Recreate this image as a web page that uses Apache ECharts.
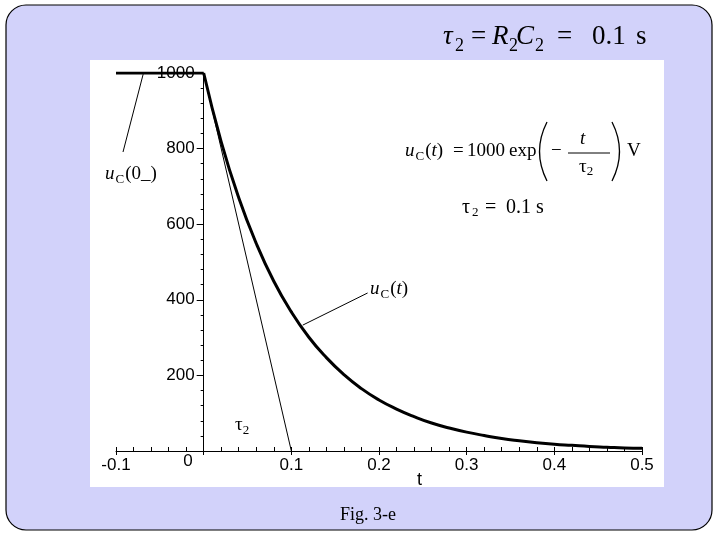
<!DOCTYPE html>
<html><head><meta charset="utf-8">
<script src="https://cdn.jsdelivr.net/npm/echarts@6/dist/echarts.min.js"></script>
<style>html,body{margin:0;padding:0;background:#fff}#c{width:720px;height:540px}</style>
</head><body><div id="c"></div>
<script>
// ---- data ----
const holdT = [-0.1, 0];
const holdU = [1000, 1000];
const decayT = [0, 0.02, 0.04, 0.06, 0.08, 0.1, 0.12, 0.14, 0.16, 0.18, 0.2, 0.22, 0.24, 0.26, 0.28, 0.3, 0.32, 0.34, 0.36, 0.38, 0.4, 0.42, 0.44, 0.46, 0.48, 0.5];
const decayU = [1000, 818, 670, 549, 449, 368, 301, 247, 202, 165, 135, 111, 91, 74, 61, 50, 41, 33, 27, 22, 18, 15, 12, 10, 8, 7];
const tangentT = [0, 0.1];
const tangentU = [1000, 0];
const pointer0T = [-0.069, -0.092];
const pointer0U = [997, 791];
const pointerTT = [0.113, 0.187];
const pointerTU = [333, 418];
const xTickLabelsNeg = ['-0.1', ''];
const xTickLabelsPos = ['', '0.1', '0.2', '0.3', '0.4', '0.5'];
const yTickLabels = ['0', '200', '400', '600', '800', '1000'];

const zip = (a, b) => a.map((v, i) => [v, b[i]]);

const SERIF = '"Liberation Serif","Times New Roman",serif';
const SANS = '"Liberation Sans",Arial,sans-serif';

const cv = document.createElement('canvas').getContext('2d');
function measure(text, font) { cv.font = font; return cv.measureText(text).width; }

function T(text, x, y, font) {
  return { type: 'text', z: 10, silent: true,
    style: { text, x, y, font, fill: '#000', textAlign: 'left', textVerticalAlign: 'middle', align: 'left', verticalAlign: 'middle' } };
}
function seq(x, y, pieces) {
  const out = [];
  let cx = x;
  pieces.forEach(p => {
    const [text, font, dy, gap] = p;
    out.push(T(text, cx, y + (dy || 0), font));
    cx += measure(text, font) + (gap || 0);
  });
  return out;
}
function curve(x1, y1, cx, cy, x2, y2, w) {
  return { type: 'bezierCurve', z: 10, silent: true,
    shape: { x1, y1, x2, y2, cpx1: cx, cpy1: cy },
    style: { fill: null, stroke: '#000', lineWidth: w } };
}

const fTitle = '27px ' + SERIF, fTitleI = 'italic 27px ' + SERIF, fTitleS = '18px ' + SERIF;
const fM = '19px ' + SERIF, fMI = 'italic 19px ' + SERIF, fMS = '13px ' + SERIF;
const fM2 = '20px ' + SERIF;

const graphics = [
  { type: 'rect', z: -10, silent: true, shape: { x: 6, y: 5, width: 706, height: 525, r: 20 },
    style: { fill: '#D2D2FA', stroke: '#000', lineWidth: 1.2 } },
  { type: 'rect', z: -9, silent: true, shape: { x: 90, y: 60, width: 574, height: 427 },
    style: { fill: '#fff' } },
  // title
  T('τ', 443, 37, fTitleI), T('2', 455, 46, fTitleS), T('=', 471, 37, fTitle),
  T('R', 492, 37, fTitleI), T('2', 509, 46, fTitleS), T('C', 516, 37, fTitleI), T('2', 535, 46, fTitleS),
  T('=', 557, 37, fTitle), T('0.1', 592, 37, fTitle), T('s', 636, 37, fTitle),
  // formula
  ...seq(405, 151, [['u', fMI, 0, 1], ['C', fMS, 6, 1], ['(', fM], ['t', fMI], [')', fM]]),
  T('=', 453, 151, fM), T('1000', 467, 151, fM), T('exp', 509, 151, fM),
  curve(547, 122, 532, 151.5, 547, 181, 1.3),
  T('−', 551, 151, fM),
  T('t', 580, 139, fMI),
  { type: 'line', z: 10, silent: true, shape: { x1: 568, y1: 153, x2: 610, y2: 153 }, style: { stroke: '#000', lineWidth: 1 } },
  ...seq(579, 167, [['τ', fM], ['2', fMS, 5]]),
  curve(612, 122, 627, 151.5, 612, 181, 1.3),
  T('V', 627, 151, fM),
  // tau = 0.1 s
  T('τ', 462, 208, fM2), T('2', 472, 213, fMS), T('=', 485, 208, fM2), T('0.1 s', 506, 208, fM2),
  // labels
  ...seq(105, 174, [['u', fMI, 0, 1], ['C', fMS, 6, 1], ['(0_)', fM]]),
  ...seq(370, 289, [['u', fMI, 0, 1], ['C', fMS, 6, 1], ['(', fM], ['t', fMI], [')', fM]]),
  ...seq(235, 425, [['τ', fM], ['2', fMS, 6]]),
  T('t', 417, 480, '18px ' + SANS),
  T('Fig. 3-e', 340, 515, '18px ' + SERIF)
];

const lineBase = { type: 'line', showSymbol: false, silent: true, animation: false, z: 3 };
const blk = { color: '#000', width: 1 };

// two grids share the same pixel scale: 0.1 s = 526/6 px
const X0 = 116, X1 = 642, XZERO = X0 + (X1 - X0) / 6;
const majorX = (min, max, labels, gi) => ({
  type: 'value', gridIndex: gi, min, max, interval: 0.1, position: 'bottom',
  axisLine: { show: true, onZero: false, lineStyle: blk },
  axisTick: { show: true, length: 4, lineStyle: blk },
  splitLine: { show: false },
  axisLabel: { margin: 6, color: '#000', fontFamily: SANS, fontSize: 17, showMinLabel: true, showMaxLabel: true,
    formatter: (v) => labels[Math.round((v - min) * 10)] ?? '' }
});
const minorX = (min, max, gi) => ({
  type: 'value', gridIndex: gi, min, max, interval: 0.02, position: 'bottom',
  axisLine: { show: false, onZero: false },
  axisTick: { show: true, inside: true, length: 4, lineStyle: blk },
  splitLine: { show: false }, axisLabel: { show: false }
});

const option = {
  animation: false,
  backgroundColor: '#fff',
  grid: [
    { left: X0, right: 720 - XZERO, top: 73, bottom: 89, containLabel: false },
    { left: XZERO, right: 720 - X1, top: 73, bottom: 89, containLabel: false }
  ],
  xAxis: [
    majorX(-0.1, 0, xTickLabelsNeg, 0),
    minorX(-0.1, 0, 0),
    majorX(0, 0.5, xTickLabelsPos, 1),
    minorX(0, 0.5, 1)
  ],
  yAxis: [
    { type: 'value', gridIndex: 0, min: 0, max: 1000, show: false },
    { type: 'value', gridIndex: 1, min: 0, max: 1000, interval: 200, position: 'left',
      axisLine: { show: true, onZero: false, lineStyle: blk },
      axisTick: { show: true, length: 7, lineStyle: blk },
      minorTick: { show: true, splitNumber: 5, length: 3, lineStyle: blk },
      splitLine: { show: false },
      axisLabel: { margin: 9, color: '#000', fontFamily: SANS, fontSize: 17,
        formatter: (v) => { const s = yTickLabels[Math.round(v / 200)]; return v === 0 ? '{z|' + s + '}' : s; },
        rich: { z: { fontFamily: SANS, fontSize: 17, color: '#000', padding: [20, 2, 0, 0] } } } }
  ],
  graphic: graphics,
  series: [
    { ...lineBase, xAxisIndex: 0, yAxisIndex: 0, data: zip(holdT, holdU), lineStyle: { color: '#000', width: 3 } },
    { ...lineBase, xAxisIndex: 0, yAxisIndex: 0, data: zip(pointer0T, pointer0U), lineStyle: { color: '#000', width: 1 } },
    { ...lineBase, xAxisIndex: 2, yAxisIndex: 1, data: zip(decayT, decayU), smooth: true, lineStyle: { color: '#000', width: 3 } },
    { ...lineBase, xAxisIndex: 2, yAxisIndex: 1, data: zip(tangentT, tangentU), lineStyle: { color: '#000', width: 1 } },
    { ...lineBase, xAxisIndex: 2, yAxisIndex: 1, data: zip(pointerTT, pointerTU), lineStyle: { color: '#000', width: 1 } }
  ]
};
echarts.init(document.getElementById('c'), null, { renderer: 'canvas' }).setOption(option);
</script></body></html>
